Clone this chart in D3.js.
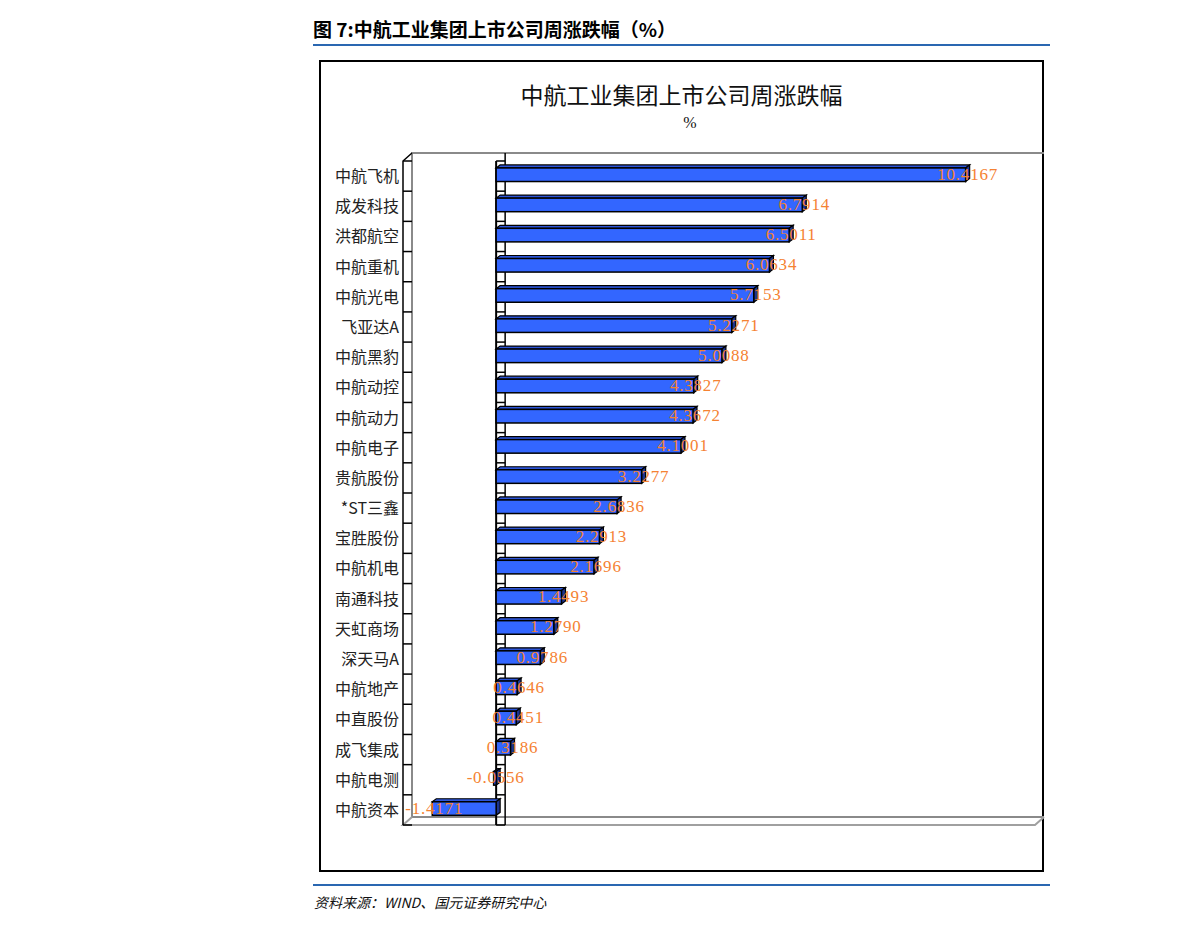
<!DOCTYPE html>
<html>
<head>
<meta charset="utf-8">
<script src="https://cdn.jsdelivr.net/npm/d3@7"></script>
<style>
  body { margin: 0; background: #fff; }
</style>
</head>
<body>
<div id="chart"></div>
<script>
'use strict';

// weekly change of listed AVIC companies, top to bottom as in the chart
var companies = ['中航飞机', '成发科技', '洪都航空', '中航重机', '中航光电', '飞亚达A',
  '中航黑豹', '中航动控', '中航动力', '中航电子', '贵航股份', '*ST三鑫', '宝胜股份',
  '中航机电', '南通科技', '天虹商场', '深天马A', '中航地产', '中直股份', '成飞集成',
  '中航电测', '中航资本'];
var changes = [10.4167, 6.7914, 6.5011, 6.0634, 5.7153, 5.2271,
  5.0088, 4.3827, 4.3672, 4.1001, 3.2277, 2.6836, 2.2913,
  2.1696, 1.4493, 1.2790, 0.9786, 0.4646, 0.4451, 0.3186,
  -0.0556, -1.4171];
var valueDomain = [-2, 12];

var pageTitle = '图 7:中航工业集团上市公司周涨跌幅（%）'
  , chartTitle = '中航工业集团上市公司周涨跌幅'
  , unitLabel = '%'
  , sourceNote = '资料来源：WIND、国元证券研究中心';

var W = 1191, H = 931
  , frame = {x: 320, y: 61, w: 723, h: 810}
  , plot = {left: 403, right: 1035, top: 161, bottom: 825}
  , depth = {dx: 9, dy: -8}        // depth of the walls
  , barDepth = {dx: 4, dy: -3}     // depth of each bar
  , blue = '#2A67B1'
  , labelFont = '"Noto Sans CJK SC", "Noto Sans", sans-serif'
  , numFont = '"Liberation Serif", "DejaVu Serif", serif';

var svg = d3.select('#chart').append('svg')
  .attr('width', W)
  .attr('height', H);

var x = d3.scaleLinear().domain(valueDomain).range([406, 1037]);
var y = d3.scaleBand().domain(companies).range([plot.top, plot.bottom]);
var bw = y.bandwidth();

// page header and footer
svg.append('text')
  .attr('x', 313).attr('y', 37)
  .style('font-family', labelFont)
  .style('font-weight', 'bold')
  .style('font-size', '19px')
  .style('fill', '#000')
  .text(pageTitle);
svg.append('line')
  .attr('x1', 313).attr('x2', 1050).attr('y1', 45).attr('y2', 45)
  .style('stroke', blue).style('stroke-width', 2);
svg.append('line')
  .attr('x1', 313).attr('x2', 1050).attr('y1', 885).attr('y2', 885)
  .style('stroke', blue).style('stroke-width', 2);
svg.append('text')
  .attr('x', 314).attr('y', 908)
  .style('font-family', labelFont)
  .style('font-style', 'italic')
  .style('font-size', '14px')
  .style('fill', '#111')
  .text(sourceNote);

// chart frame
svg.append('rect')
  .attr('x', frame.x).attr('y', frame.y)
  .attr('width', frame.w).attr('height', frame.h)
  .style('fill', '#fff')
  .style('stroke', '#000')
  .style('stroke-width', 2);

svg.append('text')
  .attr('x', frame.x + frame.w / 2).attr('y', 104)
  .style('text-anchor', 'middle')
  .style('font-family', labelFont)
  .style('font-size', '23px')
  .style('fill', '#111')
  .text(chartTitle);
svg.append('text')
  .attr('x', 690).attr('y', 128)
  .style('text-anchor', 'middle')
  .style('font-family', numFont)
  .style('font-size', '16px')
  .style('fill', '#111')
  .text(unitLabel);

// walls and floor
var walls = svg.append('g').attr('class', 'walls');
var bl = plot.left + depth.dx, bt = plot.top + depth.dy
  , br = plot.right + depth.dx, bb = plot.bottom + depth.dy;

walls.append('path')
  .attr('d', 'M' + br + ',' + bt + 'H' + bl + 'V' + bb + 'H' + br)
  .style('fill', 'none').style('stroke', '#8a8a8a').style('stroke-width', 2);
walls.append('path')
  .attr('d', 'M' + bl + ',' + bb + 'L' + plot.left + ',' + plot.bottom +
    'H' + plot.right + 'L' + br + ',' + bb)
  .style('fill', 'none').style('stroke', '#a0a0a0').style('stroke-width', 2);

// boundaries of the category bands
var bounds = companies.map(function (c) { return y(c); }).concat([plot.bottom]);

// left side wall, drawn like a ladder
walls.append('path')
  .attr('d', 'M' + bl + ',' + bt + 'L' + plot.left + ',' + plot.top + 'V' + plot.bottom)
  .style('fill', 'none').style('stroke', '#000').style('stroke-width', 1.5);
walls.selectAll('line.lefttick')
  .data(bounds)
  .enter().append('line')
    .attr('class', 'lefttick')
    .attr('x1', plot.left).attr('x2', bl)
    .attr('y1', function (d) { return d; })
    .attr('y2', function (d) { return d; })
    .style('stroke', '#000').style('stroke-width', 1.5);

// category axis at zero
var x0 = x(0);
walls.append('line')
  .attr('x1', x0 + depth.dx).attr('x2', x0 + depth.dx)
  .attr('y1', bt).attr('y2', plot.bottom)
  .style('stroke', '#000').style('stroke-width', 1.5);
walls.selectAll('line.zerotick')
  .data(bounds)
  .enter().append('line')
    .attr('class', 'zerotick')
    .attr('x1', x0).attr('x2', x0 + depth.dx)
    .attr('y1', function (d) { return d; })
    .attr('y2', function (d) { return d; })
    .style('stroke', '#000').style('stroke-width', 1.5);
walls.append('line')
  .attr('x1', x0).attr('x2', x0)
  .attr('y1', plot.top).attr('y2', plot.bottom)
  .style('stroke', '#000').style('stroke-width', 2);

// the bars, each drawn as a front, a top and a side face
var bars = svg.selectAll('g.bar')
  .data(companies)
  .enter().append('g')
    .attr('class', 'bar');

function barGeom(i) {
  var v = changes[i]
    , xa = x(Math.min(0, v))
    , xb = x(Math.max(0, v))
    , by = y(companies[i]) + bw * 0.23
    , bh = bw * 0.45;
  return {xa: xa, xb: xb, by: by, bh: bh};
}

bars.append('path')
  .attr('d', function (d, i) {
    var g = barGeom(i);
    return 'M' + g.xa + ',' + g.by + 'l' + barDepth.dx + ',' + barDepth.dy +
      'H' + (g.xb + barDepth.dx) + 'L' + g.xb + ',' + g.by + 'Z';
  })
  .style('fill', '#2C55D8')
  .style('stroke', '#000')
  .style('stroke-width', 1.2);
bars.append('path')
  .attr('d', function (d, i) {
    var g = barGeom(i);
    return 'M' + g.xb + ',' + g.by + 'l' + barDepth.dx + ',' + barDepth.dy +
      'v' + g.bh + 'L' + g.xb + ',' + (g.by + g.bh) + 'Z';
  })
  .style('fill', '#1C3390')
  .style('stroke', '#000')
  .style('stroke-width', 1.2);
bars.append('rect')
  .attr('x', function (d, i) { return barGeom(i).xa; })
  .attr('y', function (d, i) { return barGeom(i).by; })
  .attr('width', function (d, i) { var g = barGeom(i); return g.xb - g.xa; })
  .attr('height', function (d, i) { return barGeom(i).bh; })
  .style('fill', '#3366FF')
  .style('stroke', '#000')
  .style('stroke-width', 1.5);

// category labels
svg.selectAll('text.cat')
  .data(companies)
  .enter().append('text')
    .attr('class', 'cat')
    .attr('x', plot.left - 4)
    .attr('y', function (d) { return y(d) + bw / 2 + 6; })
    .style('text-anchor', 'end')
    .style('font-family', labelFont)
    .style('font-size', '16px')
    .style('fill', '#222')
    .text(function (d) { return d; });

// value labels centred on the bar ends
svg.selectAll('text.val')
  .data(changes)
  .enter().append('text')
    .attr('class', 'val')
    .attr('x', function (d) { return x(d) + 2; })
    .attr('y', function (d, i) { var g = barGeom(i); return g.by + g.bh / 2 + 5; })
    .style('text-anchor', 'middle')
    .style('font-family', numFont)
    .style('font-size', '17px')
    .style('letter-spacing', '0.8px')
    .style('fill', '#F58232')
    .text(function (d) { return d.toFixed(4); });
</script>
</body>
</html>
